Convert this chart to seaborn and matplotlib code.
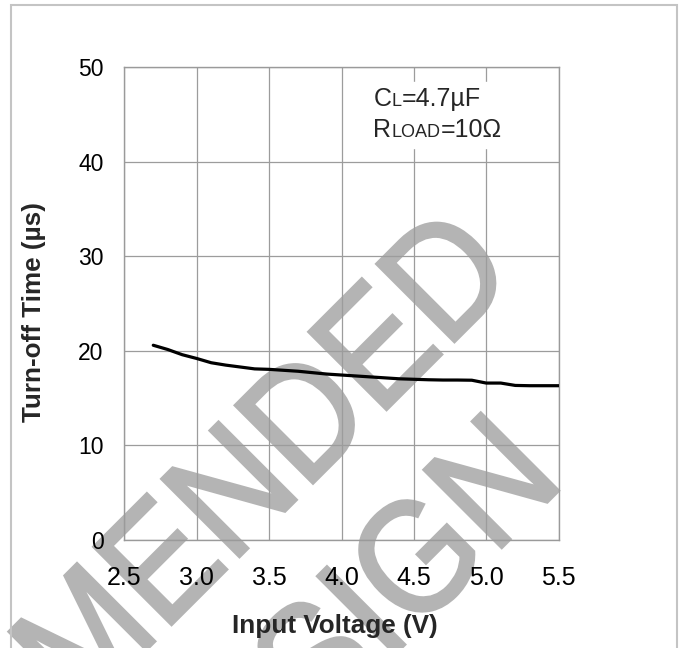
import matplotlib
matplotlib.use("Agg")
import matplotlib.pyplot as plt
import matplotlib.transforms as mtransforms
import seaborn as sns
import pandas as pd
from matplotlib.offsetbox import TextArea, HPacker, VPacker, AnchoredOffsetbox
from matplotlib.patches import Rectangle, PathPatch
from matplotlib.textpath import TextPath
from matplotlib.font_manager import FontProperties

# ---- data ----
voltage = [2.7, 2.8, 2.9, 3.0, 3.1, 3.2, 3.3, 3.4, 3.5, 3.6, 3.7, 3.8, 3.9, 4.0,
           4.1, 4.2, 4.3, 4.4, 4.5, 4.6, 4.7, 4.8, 4.9, 5.0, 5.1, 5.2, 5.3, 5.4, 5.5]
turnoff = [20.6, 20.15, 19.6, 19.2, 18.75, 18.5, 18.3, 18.1, 18.05, 17.95, 17.85,
           17.7, 17.55, 17.45, 17.35, 17.25, 17.15, 17.05, 17.0, 16.95, 16.92,
           16.92, 16.9, 16.6, 16.6, 16.35, 16.32, 16.32, 16.32]
xticks = [2.5, 3.0, 3.5, 4.0, 4.5, 5.0, 5.5]
xtick_labels = ["2.5", "3.0", "3.5", "4.0", "4.5", "5.0", "5.5"]
yticks = [0, 10, 20, 30, 40, 50]
ytick_labels = ["0", "10", "20", "30", "40", "50"]
watermark_lines = ["NOT RECOMMENDED", "FOR NEW DESIGN"]

df = pd.DataFrame({"Input Voltage (V)": voltage, "Turn-off Time (µs)": turnoff})

sns.set_theme(style="white")
plt.rcParams['font.family'] = ['Liberation Sans', 'DejaVu Sans']

W, H = 685, 648
fig = plt.figure(figsize=(W / 100, H / 100), dpi=100)
ax = fig.add_axes([124.3 / W, 1 - 540 / H, (558.7 - 124.3) / W, (540 - 67.3) / H])
ax.set_facecolor("none")

sns.lineplot(data=df, x="Input Voltage (V)", y="Turn-off Time (µs)", ax=ax,
             color="black", linewidth=2.3, zorder=3)

ax.set_xlim(2.5, 5.5)
ax.set_ylim(0, 50)
ax.set_xticks(xticks)
ax.set_xticklabels(xtick_labels)
ax.set_yticks(yticks)
ax.set_yticklabels(ytick_labels)
ax.tick_params(axis="both", length=0, colors="black")
ax.tick_params(axis="y", pad=15, labelsize=16.5)
ax.tick_params(axis="x", pad=19, labelsize=18)
ax.grid(True, color="#9c9c9c", linewidth=0.9)
ax.set_axisbelow(True)
for s in ax.spines.values():
    s.set_color("#9a9a9a")
    s.set_linewidth(1.0)

ax.set_xlabel("Input Voltage (V)", fontsize=18.8, fontweight="bold")
ax.set_ylabel("Turn-off Time (µs)", fontsize=18.8, fontweight="bold")
ax.xaxis.set_label_coords(0.485, -0.157)
ax.yaxis.set_label_coords(-0.180, 0.482)

# annotation with small-cap subscripts
big, small = 18, 13
l1 = HPacker(children=[TextArea("C", textprops=dict(size=big)),
                       TextArea("L", textprops=dict(size=small)),
                       TextArea("=4.7µF", textprops=dict(size=big))],
             align="baseline", pad=0, sep=0)
l2 = HPacker(children=[TextArea("R", textprops=dict(size=big)),
                       TextArea("LOAD", textprops=dict(size=small)),
                       TextArea("=10Ω", textprops=dict(size=big))],
             align="baseline", pad=0, sep=0)
box = VPacker(children=[l1, l2], align="left", pad=0, sep=5)
anc = AnchoredOffsetbox(loc="upper left", child=box, pad=0.35, frameon=True,
                        bbox_to_anchor=(368, H - 82), bbox_transform=None,
                        borderpad=0)
anc.patch.set_facecolor("white")
anc.patch.set_edgecolor("white")
anc.set_zorder(4)
ax.add_artist(anc)

# outer page border
fig.patches.append(Rectangle((11 / W, -0.05), (677 - 11) / W, 1.05 - 5 / H,
                             transform=fig.transFigure, fill=False,
                             edgecolor="#c4c4c4", linewidth=1.5))

# watermark: two lines rotated 45 degrees, behind the chart
EM, SX = 160, 0.9
wm_fp = FontProperties(family="Liberation Sans")
wm_anchor = [(165, 563), (48, 742)]   # (along-baseline ink end, baseline offset) px
for txt, (a, p) in zip(watermark_lines, wm_anchor):
    tp = TextPath((0, 0), txt, size=EM, prop=wm_fp)
    ext = tp.get_extents()
    X = 0.7071 * (a + p)
    Y = H - 0.7071 * (p - a)
    tr = (mtransforms.Affine2D().translate(-ext.x1, 0).scale(SX, 1)
          .rotate_deg(45).translate(X, Y))
    fig.add_artist(PathPatch(tp, transform=tr, facecolor="#b4b4b4",
                             edgecolor="#b4b4b4", linewidth=2.2, zorder=-1))

fig.savefig("out.png", dpi=100)
